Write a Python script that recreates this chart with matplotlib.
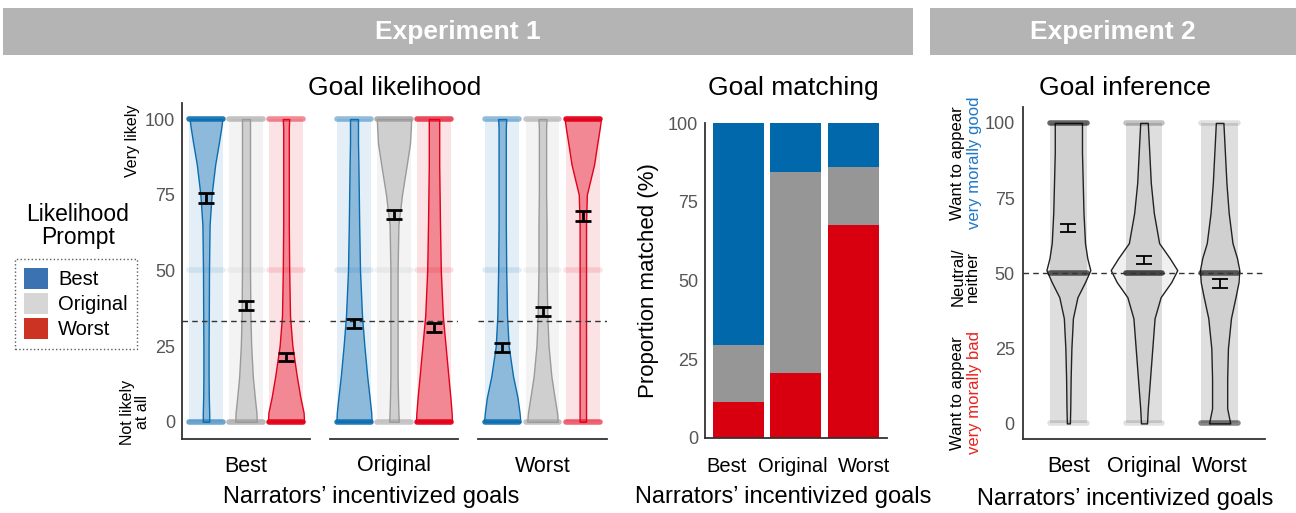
import numpy as np
import matplotlib
matplotlib.use('Agg')
import matplotlib.pyplot as plt
from matplotlib.patches import Rectangle, Patch
from matplotlib.colors import to_rgba

plt.rcParams['font.family'] = ['Liberation Sans', 'DejaVu Sans']

# ---- data ----
goals = ['Best', 'Original', 'Worst']          # narrators' incentivized goals (facets / x)
prompts = ['Best', 'Original', 'Worst']        # likelihood prompt (violins in exp 1)

# Exp 1 goal likelihood: mean and SE per facet (goal) x prompt
means1 = [[74, 38.5, 21.5], [32.5, 68.5, 31], [24.5, 36.5, 68]]
se1 = [[1.6, 1.5, 1.3], [1.4, 1.5, 1.5], [1.4, 1.5, 1.6]]

# violin half widths (x units) read at these ratings
v1_y = [0, 3, 8, 15, 25, 35, 50, 65, 75, 85, 92, 97, 100]
v1_w = [
    [[0.08, 0.08, 0.07, 0.065, 0.065, 0.07, 0.075, 0.09, 0.14, 0.23, 0.32, 0.38, 0.41],
     [0.27, 0.26, 0.22, 0.17, 0.13, 0.11, 0.10, 0.10, 0.10, 0.10, 0.10, 0.10, 0.10],
     [0.45, 0.44, 0.36, 0.27, 0.16, 0.10, 0.08, 0.07, 0.07, 0.07, 0.07, 0.07, 0.08]],
    [[0.44, 0.43, 0.39, 0.33, 0.26, 0.20, 0.15, 0.13, 0.12, 0.11, 0.10, 0.10, 0.10],
     [0.12, 0.11, 0.10, 0.09, 0.09, 0.09, 0.09, 0.11, 0.20, 0.32, 0.40, 0.42, 0.43],
     [0.45, 0.44, 0.41, 0.36, 0.29, 0.22, 0.17, 0.15, 0.14, 0.13, 0.13, 0.13, 0.13]],
    [[0.45, 0.43, 0.38, 0.27, 0.16, 0.12, 0.10, 0.09, 0.09, 0.09, 0.09, 0.09, 0.10],
     [0.38, 0.36, 0.30, 0.22, 0.15, 0.12, 0.10, 0.10, 0.09, 0.09, 0.09, 0.09, 0.10],
     [0.08, 0.08, 0.08, 0.08, 0.08, 0.08, 0.08, 0.08, 0.10, 0.28, 0.36, 0.42, 0.45]],
]
# how packed the raw ratings look at 0 / 50 / 100
pile_levels = [0, 50, 100]
pile1 = [
    [[0.6, 0.1, 0.9], [0.7, 0.1, 0.6], [0.95, 0.12, 0.45]],
    [[0.9, 0.12, 0.45], [0.55, 0.12, 0.8], [0.95, 0.12, 0.7]],
    [[0.9, 0.12, 0.45], [0.6, 0.12, 0.55], [0.6, 0.12, 0.95]],
]

# Exp 1 goal matching: stacked % (worst, original, best from bottom)
match_worst = [11.5, 20.5, 67.5]
match_orig = [18, 64, 18.5]
match_best = [70.5, 15.5, 14]

# Exp 2 goal inference
means2 = [65, 54.5, 46.5]
se2 = [1.4, 1.3, 1.4]
v2_y = [0, 5, 15, 25, 35, 42, 47, 51, 55, 60, 70, 80, 90, 100]
v2_w = [
    [0.02, 0.025, 0.03, 0.04, 0.06, 0.12, 0.22, 0.29, 0.25, 0.22, 0.20, 0.19, 0.18, 0.18],
    [0.04, 0.05, 0.08, 0.11, 0.14, 0.22, 0.36, 0.44, 0.34, 0.20, 0.13, 0.09, 0.07, 0.05],
    [0.14, 0.10, 0.10, 0.11, 0.15, 0.21, 0.25, 0.26, 0.23, 0.17, 0.12, 0.09, 0.07, 0.05],
]
pile2 = [[0.15, 0.75, 0.75], [0.15, 0.85, 0.3], [0.6, 0.75, 0.15]]

col1 = ['#0b6cb0', '#9a9a9a', '#e2001a']
col_bar = ['#0068ab', '#969696', '#d8000f']
col_leg = ['#3a72b2', '#d6d6d6', '#cc3322']

W, H = 1296, 513
fig = plt.figure(figsize=(W / 100, H / 100), dpi=100)


def box(x0, y0, x1, y1):
    return [x0 / W, 1 - y1 / H, (x1 - x0) / W, (y1 - y0) / H]


def fx(x):
    return x / W


def fy(y):
    return 1 - y / H


# header bands
for (x0, x1, lab) in [(3, 913, 'Experiment 1'), (930, 1296, 'Experiment 2')]:
    fig.add_artist(Rectangle((fx(x0), fy(55)), (x1 - x0) / W, 47 / H,
                             transform=fig.transFigure, color='#b4b4b4', lw=0))
    fig.text(fx((x0 + x1) / 2), fy(32), lab, color='white', fontsize=19,
             fontweight='bold', ha='center', va='center')

# ---- Goal likelihood (3 facets) ----
fac_x = [(182, 310), (330, 458), (478, 607)]
jit = 0.42
for i, (x0, x1) in enumerate(fac_x):
    ax = fig.add_axes(box(x0, 103, x1, 439))
    ax.set_xlim(0.4, 3.6)
    ax.set_ylim(-5.7, 105.3)
    for j in range(3):
        c = col1[j]
        xc = j + 1
        ax.fill_betweenx([0, 100], xc - jit, xc + jit, color=c, alpha=0.11, lw=0)
        for yv, a in zip(pile_levels, pile1[i][j]):
            ax.plot([xc - jit, xc + jit], [yv, yv], color=c, alpha=a, lw=4,
                    solid_capstyle='round')
        w = np.array(v1_w[i][j])
        ax.fill_betweenx(v1_y, xc - w, xc + w, facecolor=to_rgba(c, 0.4),
                         edgecolor=c, lw=1)
        ax.errorbar(xc, means1[i][j], yerr=se1[i][j], fmt='none', ecolor='black',
                    elinewidth=2, capsize=5.5, capthick=2, zorder=5)
    ax.axhline(100 / 3, color='#333333', ls=(0, (4, 3)), lw=1)
    ax.set_xticks([])
    for s in ['top', 'right']:
        ax.spines[s].set_visible(False)
    ax.spines['bottom'].set_color('#333333')
    ax.spines['bottom'].set_linewidth(1.3)
    if i == 0:
        ax.spines['left'].set_color('#333333')
        ax.spines['left'].set_linewidth(1.3)
        ax.set_yticks([0, 25, 50, 75, 100])
        ax.tick_params(axis='y', length=0, pad=5, labelsize=13, labelcolor='#555555')
    else:
        ax.spines['left'].set_visible(False)
        ax.set_yticks([])
    fig.text(fx((x0 + x1) / 2), fy(466), goals[i], fontsize=15.5, ha='center', va='center')

fig.text(fx(395), fy(88), 'Goal likelihood', fontsize=19, ha='center', va='center')
fig.text(fx(371), fy(497), 'Narrators\u2019 incentivized goals', fontsize=17,
         ha='center', va='center')
fig.text(fx(133), fy(141), 'Very likely', fontsize=11.5, rotation=90,
         ha='center', va='center')
fig.text(fx(135), fy(412), 'Not likely\nat all', fontsize=11.5, rotation=90,
         ha='center', va='center', linespacing=0.95)

# legend
fig.text(fx(78), fy(226), 'Likelihood\nPrompt', fontsize=16.5, ha='center',
         va='center', linespacing=1.05)
handles = [Patch(facecolor=c, edgecolor='none') for c in col_leg]
leg = fig.legend(handles, prompts, loc='upper left', bbox_to_anchor=(fx(15), fy(259)),
                 fontsize=14.5, frameon=True, fancybox=False, handlelength=1.2,
                 handleheight=1.2, handletextpad=0.5, labelspacing=0.2,
                 borderpad=0.45, borderaxespad=0)
leg.get_frame().set_linestyle(':')
leg.get_frame().set_edgecolor('#333333')
leg.get_frame().set_linewidth(1)

# ---- Goal matching ----
ax2 = fig.add_axes(box(705, 123, 887, 438))
xb = np.arange(1, 4)
bw = 0.89
ax2.bar(xb, match_worst, bw, color=col_bar[2], lw=0)
ax2.bar(xb, match_orig, bw, bottom=match_worst, color=col_bar[1], lw=0)
ax2.bar(xb, match_best, bw, bottom=np.add(match_worst, match_orig), color=col_bar[0], lw=0)
ax2.set_xlim(0.42, 3.59)
ax2.set_ylim(0, 100)
ax2.set_yticks([0, 25, 50, 75, 100])
ax2.set_xticks([])
ax2.tick_params(axis='y', length=0, pad=5, labelsize=13, labelcolor='#555555')
for s in ['top', 'right']:
    ax2.spines[s].set_visible(False)
for s in ['left', 'bottom']:
    ax2.spines[s].set_color('#333333')
    ax2.spines[s].set_linewidth(1.3)
ax2.set_ylabel('Proportion matched (%)', fontsize=16, labelpad=6)
# category labels sit packed together under the narrow bars
for lab, xl in zip(goals, [727, 793, 864]):
    fig.text(fx(xl), fy(466), lab, fontsize=14.5, ha='center', va='center')
fig.text(fx(793), fy(88), 'Goal matching', fontsize=19, ha='center', va='center')
fig.text(fx(783), fy(497), 'Narrators\u2019 incentivized goals', fontsize=17,
         ha='center', va='center')

# ---- Goal inference ----
ax3 = fig.add_axes(box(1023, 107, 1265, 439))
ax3.set_xlim(0.4, 3.6)
ax3.set_ylim(-5.2, 105.3)
jit2 = 0.24
for j in range(3):
    xc = j + 1
    ax3.fill_betweenx([0, 100], xc - jit2, xc + jit2, color='black', alpha=0.13, lw=0)
    for yv, a in zip(pile_levels, pile2[j]):
        ax3.plot([xc - jit2, xc + jit2], [yv, yv], color='black', alpha=a * 0.8, lw=4,
                 solid_capstyle='round')
    w = np.array(v2_w[j])
    ax3.fill_betweenx(v2_y, xc - w, xc + w, facecolor=(0, 0, 0, 0.06),
                      edgecolor='#222222', lw=1)
    ax3.errorbar(xc, means2[j], yerr=se2[j], fmt='none', ecolor='black',
                 elinewidth=1.3, capsize=6, capthick=1.3, zorder=5)
ax3.axhline(50, color='#333333', ls=(0, (4, 3)), lw=1)
ax3.set_yticks([0, 25, 50, 75, 100])
ax3.set_xticks([1, 2, 3])
ax3.set_xticklabels(goals)
ax3.tick_params(axis='y', length=0, pad=6, labelsize=13, labelcolor='#555555')
ax3.tick_params(axis='x', length=0, pad=12, labelsize=15.5)
for s in ['top', 'right']:
    ax3.spines[s].set_visible(False)
for s in ['left', 'bottom']:
    ax3.spines[s].set_color('#333333')
    ax3.spines[s].set_linewidth(1.3)
fig.text(fx(1125), fy(88), 'Goal inference', fontsize=19, ha='center', va='center')
fig.text(fx(1125), fy(499), 'Narrators\u2019 incentivized goals', fontsize=17,
         ha='center', va='center')

# side labels for exp 2
for yc, l2, c2 in [(163, 'very morally good', '#1f78c8'), (393, 'very morally bad', '#e8231f')]:
    fig.text(fx(958), fy(yc), 'Want to appear', fontsize=12, rotation=90,
             ha='center', va='center')
    fig.text(fx(974), fy(yc), l2, fontsize=12, rotation=90, color=c2,
             ha='center', va='center')
fig.text(fx(965), fy(277), 'Neutral/\nneither', fontsize=12, rotation=90,
         ha='center', va='center', linespacing=0.95)

fig.savefig('out.png', dpi=100)
